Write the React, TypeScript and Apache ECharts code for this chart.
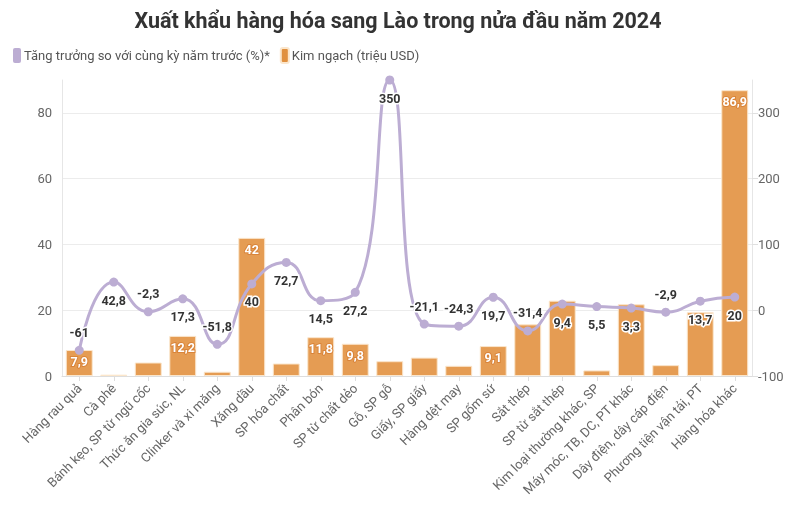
import React, { useEffect, useRef } from "react";
import * as echarts from "echarts";

const categories = [
  "Hàng rau quả",
  "Cà phê",
  "Bánh kẹo, SP từ ngũ cốc",
  "Thức ăn gia súc, NL",
  "Clinker và xi măng",
  "Xăng dầu",
  "SP hóa chất",
  "Phân bón",
  "SP từ chất dẻo",
  "Gỗ, SP gỗ",
  "Giấy, SP giấy",
  "Hàng dệt may",
  "SP gốm sứ",
  "Sắt thép",
  "SP từ sắt thép",
  "Kim loại thường khác, SP",
  "Máy móc, TB, DC, PT khác",
  "Dây điện, dây cáp điện",
  "Phương tiện vận tải, PT",
  "Hàng hóa khác",
];

const kimNgach = [7.9, 0.4, 4.1, 12.2, 1.3, 42, 3.8, 11.8, 9.8, 4.5, 5.6, 3.1, 9.1, 15.7, 22.9, 1.7, 21.8, 3.3, 19.4, 86.9];
const kimNgachLabelShown = [true, false, false, true, false, true, false, true, true, false, false, false, true, false, false, false, false, false, false, true];

const tangTruong = [-61, 42.8, -2.3, 17.3, -51.8, 40, 72.7, 14.5, 27.2, 350, -21.1, -24.3, 19.7, -31.4, 9.4, 5.5, 3.3, -2.9, 13.7, 20];
const tangTruongLabelPos = ["top", "bottom", "top", "bottom", "top", "bottom", "bottom", "bottom", "bottom", "bottom", "top", "top", "bottom", "top", "bottom", "bottom", "bottom", "top", "bottom", "bottom"];

const leftTicks = { min: 0, max: 90, interval: 20 };
const rightTicks = { min: -100, max: 350, interval: 100 };

const fmt = (v: number) => String(v).replace(".", ",");

const FONT = "Roboto";

export default function App() {
  const ref = useRef<HTMLDivElement>(null);
  useEffect(() => {
    if (!ref.current) return;
    const chart = echarts.init(ref.current, null, { renderer: "svg" });
    chart.setOption({
      animation: false,
      textStyle: { fontFamily: FONT },
      title: {
        text: "Xuất khẩu hàng hóa sang Lào trong nửa đầu năm 2024",
        left: "center",
        top: 4,
        textStyle: { fontFamily: FONT, fontSize: 21.5, fontWeight: "bold", color: "#333" },
      },
      legend: {
        left: 8,
        top: 42,
        itemWidth: 8,
        itemHeight: 15,
        itemGap: 10,
        icon: "roundRect",
        textStyle: { fontFamily: FONT, fontSize: 13, color: "#555", padding: [0, 0, 0, -2] },
        data: [
          { name: "Tăng trưởng so với cùng kỳ năm trước (%)*", itemStyle: { color: "#bcadd3" } },
          { name: "Kim ngạch (triệu USD)", itemStyle: { color: "#e0903f" } },
        ],
      },
      grid: { left: 62, right: 44, top: 80, bottom: 132, containLabel: false },
      xAxis: {
        type: "category",
        data: categories,
        axisLine: { show: true, lineStyle: { color: "#ddd" } },
        axisTick: { show: true, alignWithLabel: true, lineStyle: { color: "#ddd" } },
        axisLabel: {
          interval: 0,
          rotate: 45,
          fontFamily: FONT,
          fontSize: 13,
          color: "#666",
          margin: 10,
        },
      },
      yAxis: [
        {
          type: "value",
          min: leftTicks.min,
          max: leftTicks.max,
          interval: leftTicks.interval,
          axisLine: { show: true, lineStyle: { color: "#e6e6e6" } },
          axisTick: { show: false },
          axisLabel: { showMaxLabel: false, fontFamily: FONT, fontSize: 13, color: "#666", margin: 10 },
          splitLine: { show: true, showMaxLine: false, lineStyle: { color: "#ececec" } },
        },
        {
          type: "value",
          min: rightTicks.min,
          max: rightTicks.max,
          interval: rightTicks.interval,
          axisLine: { show: true, lineStyle: { color: "#e6e6e6" } },
          axisTick: { show: true, length: 6, lineStyle: { color: "#e0e0e0" } },
          axisLabel: { showMaxLabel: false, fontFamily: FONT, fontSize: 13, color: "#666", margin: 6 },
          splitLine: { show: false },
        },
      ],
      series: [
        {
          name: "Kim ngạch (triệu USD)",
          type: "bar",
          yAxisIndex: 0,
          barWidth: "78%",
          z: 1,
          itemStyle: { color: "#e59c53", borderColor: "#fbe6cc", borderWidth: 1 },
          data: kimNgach.map((v, i) => ({
            value: v,
            label: {
              show: kimNgachLabelShown[i],
              position: "insideTop",
              distance: 5,
              formatter: () => fmt(v),
              fontFamily: FONT,
              fontWeight: "bold",
              fontSize: 12.5,
              color: "#fff",
              textBorderColor: "#d9843a",
              textBorderWidth: 2,
            },
          })),
        },
        {
          name: "Tăng trưởng so với cùng kỳ năm trước (%)*",
          type: "line",
          yAxisIndex: 1,
          smooth: 0.5,
          z: 3,
          symbol: "circle",
          symbolSize: 9,
          lineStyle: { color: "#bcadd3", width: 3 },
          itemStyle: { color: "#bcadd3" },
          data: tangTruong.map((v, i) => ({
            value: v,
            label: {
              show: true,
              position: tangTruongLabelPos[i],
              distance: 7,
              formatter: () => fmt(v),
              fontFamily: FONT,
              fontWeight: "bold",
              fontSize: 12.5,
              color: "#333",
              textBorderColor: "#fff",
              textBorderWidth: 3,
            },
          })),
        },
      ],
    });
    return () => chart.dispose();
  }, []);
  return <div ref={ref} style={{ position: "fixed", left: 0, top: 0, width: 796, height: 508 }} />;
}
